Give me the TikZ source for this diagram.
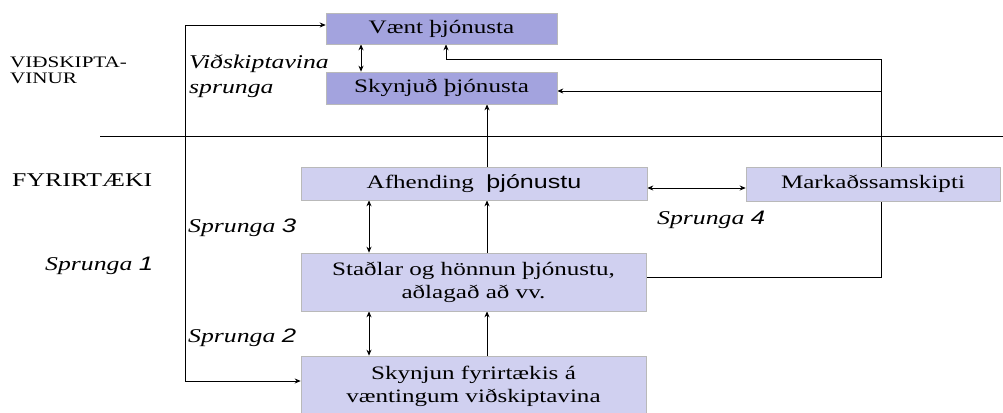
\documentclass[tikz,border=0pt]{standalone}
\usepackage{fontspec}
\setmainfont{Liberation Serif}[FakeStretch=1.32]
\newfontfamily\sansf{Liberation Sans}[FakeStretch=1.32]
\usetikzlibrary{arrows.meta,backgrounds}
\definecolor{darkbox}{HTML}{A3A3DE}
\definecolor{lightbox}{HTML}{D0D0F0}
\tikzset{
  box/.style={draw=gray!55, line width=0.6pt, inner sep=0pt, align=center,
    font=\fontsize{19}{24}\selectfont},
  topbox/.style={box, fill=darkbox},
  lowbox/.style={box, fill=lightbox},
  conn/.style={line width=0.8pt, -{Stealth[length=6pt,width=5pt]}},
  dconn/.style={line width=0.8pt, {Stealth[length=6pt,width=5pt]}-{Stealth[length=6pt,width=5pt]}},
  plain/.style={line width=0.8pt},
  lab/.style={anchor=base west, inner sep=0pt, font=\fontsize{19.5}{24}\selectfont\itshape},
  side/.style={anchor=base west, inner sep=0pt},
}
\begin{document}
\begin{tikzpicture}[x=1pt,y=-1pt]
\useasboundingbox (0,0) rectangle (1003,412);
% nodes
\node[topbox, minimum width=231pt, minimum height=31pt] (vaent) at (441.5,28.5) {V\ae nt \th j\'onusta};
\node[topbox, minimum width=231pt, minimum height=32pt] (skynjud) at (441.5,88) {Skynju\dh{} \th j\'onusta};
\node[lowbox, minimum width=346pt, minimum height=33pt] (afh) at (474,183.5) {Afhending \ {\sansf \th j\'onustu}};
\node[lowbox, minimum width=254pt, minimum height=34pt] (mark) at (873,184) {Marka\dh ssamskipti};
\node[lowbox, minimum width=345pt, minimum height=58pt] (stadl) at (473.5,282) {Sta\dh lar og h\"onnun \th j\'onustu,\\[-1pt] a\dh laga\dh{} a\dh{} vv.};
\node[lowbox, minimum width=345pt, minimum height=60pt] (skynjun) at (473.5,386) {Skynjun fyrirt\ae kis \'a\\[-1pt] v\ae ntingum vi\dh skiptavina};
% helper coordinates
\coordinate (xa) at (361,0);
\coordinate (xb) at (369,0);
\coordinate (xc) at (487,0);
\coordinate (xd) at (446,0);
\coordinate (lt) at (185,25);
\coordinate (lb) at (185,381);
\coordinate (rt) at (881,59);
\coordinate (rm) at (881,91);
\coordinate (rb) at (881,277);
\coordinate (ya) at (0,188);
\coordinate (dl) at (100,136);
\coordinate (dr) at (1003,136);
\begin{pgfonlayer}{background}
\draw[plain] (dl) -- (dr);
\draw[dconn] (vaent.west |- lt) -- (lt) -- (lb) -- (skynjun.west |- lb);
\draw[dconn] (vaent.south -| xa) -- (skynjud.north -| xa);
\draw[conn] (afh.north -| xc) -- (skynjud.south -| xc);
\draw[dconn] (afh.south -| xb) -- (stadl.north -| xb);
\draw[conn] (stadl.north -| xc) -- (afh.south -| xc);
\draw[dconn] (stadl.south -| xb) -- (skynjun.north -| xb);
\draw[conn] (skynjun.north -| xc) -- (stadl.south -| xc);
\draw[dconn] (afh.east |- ya) -- (mark.west |- ya);
\draw[conn] (stadl.east |- rb) -- (rb) -- (rt) -- (rt -| xd) -- (vaent.south -| xd);
\draw[conn] (rm) -- (skynjud.east |- rm);
\end{pgfonlayer}
% labels
\node[side, font=\fontsize{16}{16}\selectfont] (vidsk1) at (10,67) {VI\DH SKIPTA-};
\node[side, font=\fontsize{16}{16}\selectfont] (vidsk2) at (10,83) {VINUR};
\node[side, font=\fontsize{19.5}{24}\selectfont] (fyr) at (12,186) {FYRIRT\AE KI};
\node[lab] (vsp1) at (189,68) {Vi\dh skiptavina};
\node[lab] (vsp2) at (189,93) {sprunga};
\node[lab] (sp3) at (188,232) {Sprunga {\sansf\itshape 3}};
\node[lab] (sp1) at (45,270) {Sprunga {\sansf\itshape 1}};
\node[lab] (sp2) at (188,342) {Sprunga {\sansf\itshape 2}};
\node[lab] (sp4) at (657,224) {Sprunga {\sansf\itshape 4}};
\end{tikzpicture}
\end{document}
